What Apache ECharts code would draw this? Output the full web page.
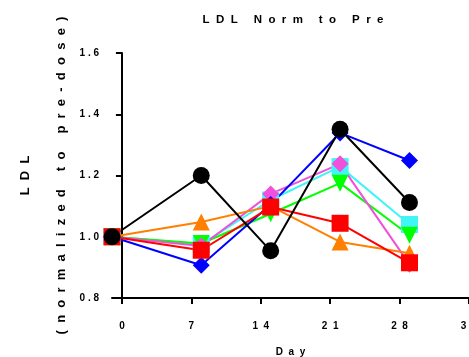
<!DOCTYPE html>
<html>
<head>
<meta charset="utf-8">
<script src="https://cdn.jsdelivr.net/npm/echarts@6/dist/echarts.min.js"></script>
<style>
  html, body { margin: 0; padding: 0; background: #fff; }
  #chart { width: 469px; height: 357px; }
</style>
</head>
<body>
<div id="chart"></div>
<script>
// sampling days (first point is pre-dose)
const days = [-1, 8, 15, 22, 29]
const xTicks = [0, 7, 14, 21, 28, 35]

const cyanVals = [1.0, 0.975, 1.12, 1.229, 1.04]
const greenVals = [1.0, 0.978, 1.075, 1.175, 1.005]
const magentaVals = [1.0, 0.97, 1.14, 1.238, 0.91]
const orangeVals = [1.0, 1.048, 1.10, 0.983, 0.946]
const blueVals = [1.0, 0.907, 1.105, 1.339, 1.249]
const redVals = [1.0, 0.956, 1.097, 1.044, 0.915]
const blackVals = [1.0, 1.2, 0.954, 1.351, 1.112]

const font = 'Liberation Sans, Arial, sans-serif'
// Prism-style letter spacing
const spaced = (s, gap) => String(s).split('').join(gap || ' ')

function makeSeries(vals, color, symbol, rotate) {
  return {
    type: 'line',
    data: days.map((d, i) => [d, vals[i]]),
    symbol: symbol,
    symbolSize: 17,
    symbolRotate: rotate || 0,
    clip: false,
    lineStyle: { color: color, width: 2 },
    itemStyle: { color: color },
    emphasis: { disabled: true }
  }
}

const chart = echarts.init(document.getElementById('chart'))
chart.setOption({
  animation: false,
  title: {
    text: spaced('LDL Norm to Pre', '  '),
    left: 288,
    top: 9,
    textAlign: 'center',
    textStyle: { fontFamily: font, fontSize: 11.5, fontWeight: 'bold', color: '#000' }
  },
  grid: { left: 112, right: 0, top: 53, bottom: 59, containLabel: false, outerBoundsMode: 'none' },
  xAxis: {
    type: 'value',
    min: -1,
    max: 35,
    name: spaced('Day', '  '),
    nameLocation: 'middle',
    nameGap: 49,
    nameMoveOverlap: false,
    nameTextStyle: { fontFamily: font, fontSize: 10, fontWeight: 'bold', color: '#000' },
    splitLine: { show: false },
    axisLine: { lineStyle: { color: '#000', width: 2 } },
    axisTick: { customValues: xTicks, length: 6, lineStyle: { color: '#000', width: 2 } },
    axisLabel: {
      customValues: xTicks,
      margin: 23,
      hideOverlap: false,
      formatter: v => spaced(v, '  '),
      fontFamily: font, fontSize: 10, fontWeight: 'bold', color: '#000'
    }
  },
  yAxis: {
    type: 'value',
    min: 0.8,
    max: 1.6,
    interval: 0.2,
    name: spaced('LDL', '  ') + '\n' + spaced('(normalized to pre-dose)', '  '),
    nameLocation: 'middle',
    nameGap: 33,
    nameMoveOverlap: false,
    nameTextStyle: { fontFamily: font, fontSize: 13, fontWeight: 'bold', color: '#000', lineHeight: 36 },
    splitLine: { show: false },
    axisLine: { show: true, lineStyle: { color: '#000', width: 2 } },
    axisTick: { show: true, length: 6, lineStyle: { color: '#000', width: 2 } },
    axisLabel: {
      margin: 13,
      formatter: v => spaced(v.toFixed(1)),
      fontFamily: font, fontSize: 10, fontWeight: 'bold', color: '#000'
    }
  },
  series: [
    makeSeries(cyanVals, '#3ff5f5', 'rect'),
    makeSeries(greenVals, '#00ff00', 'triangle', 180),
    makeSeries(magentaVals, '#f050dc', 'diamond'),
    makeSeries(orangeVals, '#ff8000', 'triangle'),
    makeSeries(blueVals, '#0000ff', 'diamond'),
    makeSeries(redVals, '#ff0000', 'rect'),
    makeSeries(blackVals, '#000000', 'circle')
  ]
})
</script>
</body>
</html>
